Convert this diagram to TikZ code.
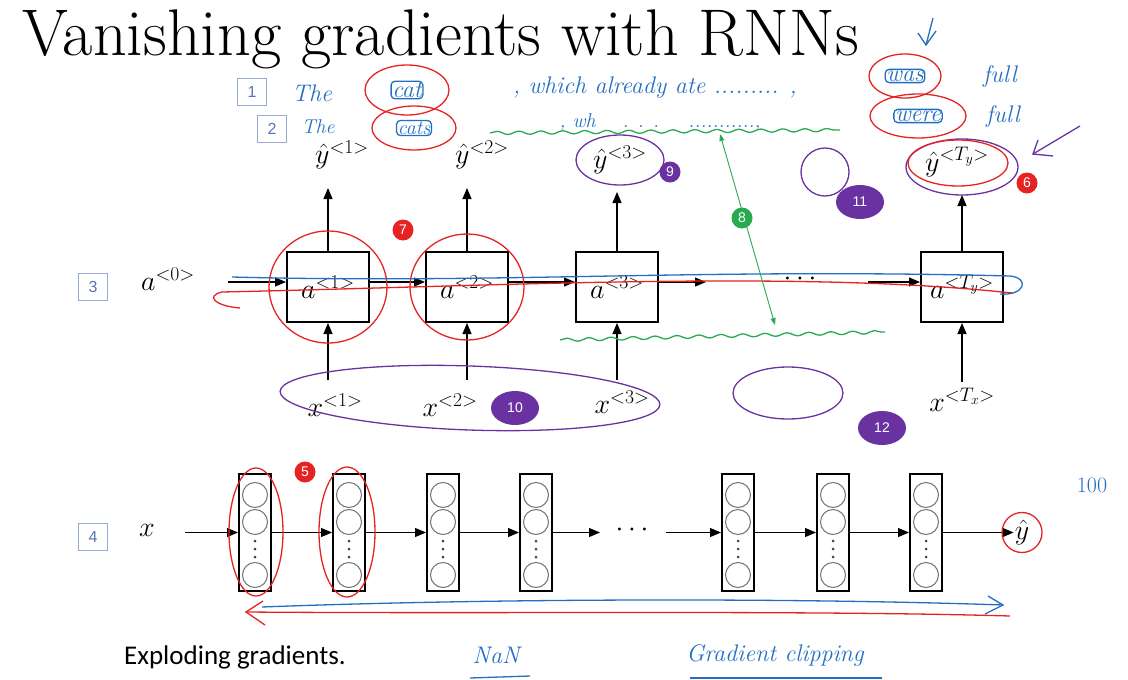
\RequirePackage{fix-cm}
\documentclass[tikz,border=0pt]{standalone}
\usepackage{fontspec}
\newfontfamily\calfont{Carlito}
\newfontfamily\sansfont{Liberation Sans}
\usetikzlibrary{arrows.meta,decorations.pathmorphing,shapes.geometric}
\definecolor{inkblue}{RGB}{35,110,195}
\definecolor{inkred}{RGB}{230,35,35}
\definecolor{inkpurple}{RGB}{105,50,160}
\definecolor{inkgreen}{RGB}{40,170,80}
\definecolor{tagblue}{RGB}{150,170,215}
\definecolor{tagtext}{RGB}{90,115,180}
\tikzset{
  cell/.style={draw, line width=2pt, minimum width=82pt, minimum height=70pt, inner sep=0pt},
  stack/.style={draw, line width=2pt, minimum width=32pt, minimum height=117pt, inner sep=0pt},
  neuron/.style={draw=black!55, line width=1pt, circle, minimum size=25pt, inner sep=0pt},
  vdot/.style={circle, fill=black!75, inner sep=0pt, minimum size=3pt},
  arr/.style={-{Triangle[length=11pt,width=9pt]}, line width=1.2pt},
  mth/.style={font=\fontsize{28}{32}\selectfont, inner sep=1pt},
  tag/.style={draw=tagblue, line width=1pt, minimum width=29pt, minimum height=27pt, inner sep=0pt, text=tagtext, font=\sansfont\fontsize{16}{18}\selectfont},
  hand/.style={text=inkblue, font=\itshape\fontsize{24}{26}\selectfont, inner sep=1pt},
  badge/.style={circle, inner sep=0pt, minimum size=21pt, text=white, font=\sansfont\fontsize{14}{16}\selectfont},
  obadge/.style={ellipse, inner sep=0pt, minimum width=48pt, minimum height=34pt, text=white, font=\sansfont\fontsize{14}{16}\selectfont, fill=inkpurple},
  redink/.style={draw=inkred, line width=1.3pt},
  blueink/.style={draw=inkblue, line width=1.3pt},
  purpink/.style={draw=inkpurple, line width=1.3pt},
  greenink/.style={draw=inkgreen, line width=1.3pt},
  wavy/.style={greenink, decorate, decoration={snake, segment length=22pt, amplitude=1.6pt}},
}
\begin{document}
\begin{tikzpicture}[x=1pt, y=-1pt]
\useasboundingbox (0,0) rectangle (1128,680);
% title
\node[anchor=base west, inner sep=0pt, font=\fontsize{66}{72}\selectfont] (title) at (22,55) {Vanishing gradients with RNNs};

% handwritten sentence rows
\node[tag] (t1) at (252,92) {1};
\node[tag] (t2) at (272,129) {2};
\node[hand] (the1) at (312,93) {The};
\node[hand] (cat) at (407,90) {cat};
\node[hand] (which) at (655,88) {, which already ate ......... ,};
\node[hand] (was) at (905,76) {was};
\node[hand] (full1) at (1000,76) {full};
\node[hand, font=\itshape\fontsize{20}{22}\selectfont] (the2) at (318,127) {The};
\node[hand, font=\itshape\fontsize{20}{22}\selectfont] (cats) at (414,128) {cats};
\node[hand, font=\itshape\fontsize{20}{22}\selectfont] (wh) at (660,122) {, wh \quad . . . \quad ...........,};
\node[hand] (were) at (918,116) {were};
\node[hand] (full2) at (1003,116) {full};
\draw[blueink, rounded corners=4pt] (cat.south west) rectangle (cat.north east);
\draw[blueink, rounded corners=4pt] (cats.south west) rectangle (cats.north east);
\draw[blueink, rounded corners=4pt] (was.south west) rectangle (was.north east);
\draw[blueink, rounded corners=4pt] (were.south west) rectangle (were.north east);
\draw[redink] (cat) ellipse [x radius=42pt, y radius=25pt];
\draw[redink] (cats) ellipse [x radius=42pt, y radius=22pt];
\draw[redink] (was) ellipse [x radius=36pt, y radius=22pt];
\draw[redink] (were) ellipse [x radius=48pt, y radius=22pt];
% down arrow above "was"
\coordinate (dnA) at (933,18);
\coordinate (dnB) at (926,45);
\draw[blueink] (dnA) -- (dnB);
\draw[blueink] (918,33) -- (dnB) -- (936,31);

% top wavy green line
\coordinate (wTopL) at (490,133);
\coordinate (wTopR) at (840,130);
\draw[wavy] (wTopL) -- (wTopR);

% RNN cells
\node[cell] (c1) at (328,287) {};
\node[cell] (c2) at (467,287) {};
\node[cell] (c3) at (617,287) {};
\node[cell] (c4) at (962,287) {};
\node[mth] (l1) at (c1) {$a^{<1>}$};
\node[mth] (l2) at (c2) {$a^{<2>}$};
\node[mth] (l3) at (c3) {$a^{<3>}$};
\node[mth] (l4) at (c4) {$a^{<T_y>}$};

% outputs
\node[mth] (y1) at (342,155) {$\hat{y}^{<1>}$};
\node[mth] (y2) at (482,155) {$\hat{y}^{<2>}$};
\node[mth] (y3) at (620,160) {$\hat{y}^{<3>}$};
\node[mth] (y4) at (957,162) {$\hat{y}^{<T_y>}$};
\coordinate (o1) at (328,188);
\coordinate (o2) at (467,188);
\coordinate (o3) at (617,192);
\coordinate (o4) at (962,195);
\draw[arr] (c1.north) -- (o1);
\draw[arr] (c2.north) -- (o2);
\draw[arr] (c3.north) -- (o3);
\draw[arr] (c4.north) -- (o4);

% inputs
\node[mth] (x1) at (335,405) {$x^{<1>}$};
\node[mth] (x2) at (450,405) {$x^{<2>}$};
\node[mth] (x3) at (622,402) {$x^{<3>}$};
\node[mth] (x4) at (962,400) {$x^{<T_x>}$};
\coordinate (i1) at (328,380);
\coordinate (i2) at (467,380);
\coordinate (i3) at (617,380);
\coordinate (i4) at (962,382);
\draw[arr] (i1) -- (c1.south);
\draw[arr] (i2) -- (c2.south);
\draw[arr] (i3) -- (c3.south);
\draw[arr] (i4) -- (c4.south);

% recurrence
\node[tag] (t3) at (93,287) {3};
\node[mth] (a0) at (168,279) {$a^{<0>}$};
\coordinate (r0) at (228,282);
\draw[arr] (r0) -- (r0 -| c1.west);
\draw[arr] (c1.east |- r0) -- (c2.west |- r0);
\draw[arr] (c2.east |- r0) -- (c3.west |- r0);
\coordinate (r3) at (706,282);
\draw[arr] (c3.east |- r3) -- (r3);
\node[mth] (rdots) at (800,279) {$\cdots$};
\coordinate (r4) at (868,282);
\draw[arr] (r4) -- (r4 -| c4.west);

% annotations on top row
\draw[redink] (c1) ellipse [x radius=59pt, y radius=56pt];
\draw[redink] (c2) ellipse [x radius=57pt, y radius=53pt];
\node[badge, fill=inkred] (b7) at (403,230) {7};
\coordinate (bl0) at (232,277);
\coordinate (bl1) at (1010,276);
\draw[blueink] (bl0) .. controls (500,284) and (700,268) .. (bl1)
  .. controls (1030,278) and (1025,296) .. (1000,294);
\coordinate (rl0) at (1012,293);
\coordinate (rl1) at (222,292);
\draw[redink] (rl0) .. controls (800,270) and (500,286) .. (rl1)
  .. controls (205,296) and (215,306) .. (240,308);

% green arrow 8
\coordinate (g8a) at (720,134);
\coordinate (g8b) at (775,325);
\draw[greenink, line width=0.9pt, {Triangle[length=7pt,width=5pt]}-{Triangle[length=7pt,width=5pt]}] (g8a) -- (g8b);
\node[badge, fill=inkgreen] (b8) at (742,218) {8};
\coordinate (wBotL) at (560,340);
\coordinate (wBotR) at (885,332);
\draw[wavy] (wBotL) -- (wBotR);

% purple annotations
\draw[purpink] (y3) ellipse [x radius=44pt, y radius=25pt];
\node[badge, fill=inkpurple] (b9) at (670,172) {9};
\draw[purpink] (825,172) circle [radius=24pt];
\node[obadge] (b11) at (860,202) {11};
\draw[purpink] (962,167) ellipse [x radius=56pt, y radius=28pt];
\draw[redink] (958,163) ellipse [x radius=50pt, y radius=23pt];
\node[badge, fill=inkred] (b6) at (1027,183) {6};
\coordinate (pA) at (1080,126);
\coordinate (pB) at (1033,154);
\draw[purpink] (pA) -- (pB);
\draw[purpink] (1038,140) -- (pB) -- (1053,156);
\draw[purpink, rotate around={-2:(470,398)}] (470,398) ellipse [x radius=190pt, y radius=32pt];
\node[obadge] (b10) at (515,408) {10};
\draw[purpink] (788,393) ellipse [x radius=55pt, y radius=26pt];
\node[obadge] (b12) at (882,428) {12};

% deep network row
\node[tag] (t4) at (93,537) {4};
\node[mth] (xin) at (147,530) {$x$};
\foreach \n/\px in {1/255,2/349,3/443,4/536,5/738,6/833,7/926}{
  \node[stack] (s\n) at (\px,532.5) {};
  \node[neuron] (s\n a) at (\px,495) {};
  \node[neuron] (s\n b) at (\px,522) {};
  \node[neuron] (s\n c) at (\px,575) {};
  \node[vdot] (s\n d1) at (\px,541) {};
  \node[vdot] (s\n d2) at (\px,549) {};
  \node[vdot] (s\n d3) at (\px,557) {};
}
\coordinate (d0) at (185,532.5);
\draw[arr] (d0) -- (s1.west);
\draw[arr] (s1.east) -- (s2.west);
\draw[arr] (s2.east) -- (s3.west);
\draw[arr] (s3.east) -- (s4.west);
\coordinate (d4) at (600,532.5);
\draw[arr] (s4.east) -- (d4);
\node[mth] (ddots) at (632,530) {$\cdots$};
\coordinate (d5) at (666,532.5);
\draw[arr] (d5) -- (s5.west);
\draw[arr] (s5.east) -- (s6.west);
\draw[arr] (s6.east) -- (s7.west);
\node[mth] (yhat) at (1022,532.5) {$\hat{y}$};
\draw[arr] (s7.east) -- (s7.east -| yhat.west);
\draw[redink] (yhat) circle [radius=20pt];
\draw[redink] (256,532) ellipse [x radius=27pt, y radius=64pt];
\draw[redink] (347,532) ellipse [x radius=28pt, y radius=65pt];
\node[badge, fill=inkred] (b5) at (305,472) {5};

% forward / backward strokes
\coordinate (fb0) at (262,607);
\coordinate (fb1) at (1003,605);
\draw[blueink] (fb0) .. controls (500,598) and (800,598) .. (fb1);
\draw[blueink] (988,596) -- (fb1) -- (985,614);
\coordinate (bk0) at (1010,616);
\coordinate (bk1) at (246,612);
\draw[redink] (bk0) .. controls (800,610) and (500,614) .. (bk1);
\draw[redink] (263,601) -- (bk1) -- (265,625);

\node[hand, font=\fontsize{22}{24}\selectfont] (hundred) at (1092,485) {100};

% bottom text
\node[anchor=base west, inner sep=0pt, font=\calfont\fontsize{27}{30}\selectfont] (expl) at (124,664) {Exploding gradients.};
\node[hand] (nan) at (496,655) {NaN};
\coordinate (nanL) at (470,678);
\coordinate (nanR) at (530,676);
\draw[blueink] (nanL) -- (nanR);
\node[hand] (clip) at (775,655) {Gradient clipping};
\coordinate (clL) at (690,678);
\coordinate (clR) at (882,678);
\draw[blueink] (clL) -- (clR);
\end{tikzpicture}
\end{document}
